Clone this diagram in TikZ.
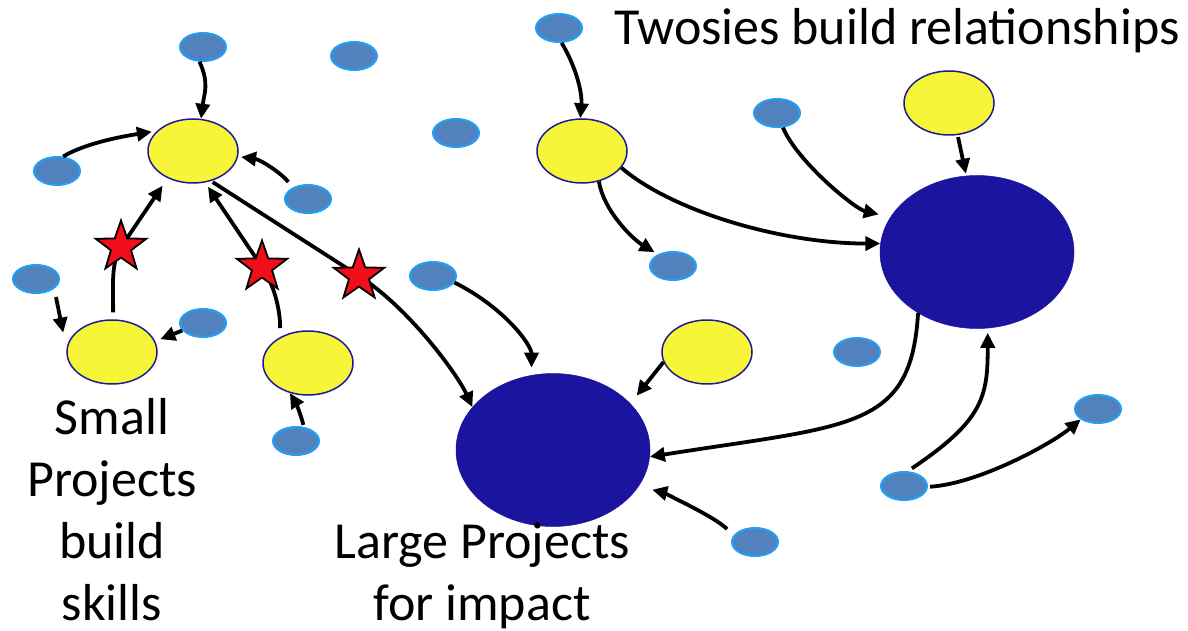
\documentclass[tikz,border=0pt]{standalone}
\usepackage{fontspec}
\setmainfont{Carlito}
\usetikzlibrary{shapes.geometric,arrows.meta}
\definecolor{smfill}{HTML}{5282BE}
\definecolor{smline}{HTML}{23A0F5}
\definecolor{yfill}{HTML}{F7F537}
\definecolor{yline}{HTML}{1E1996}
\definecolor{bigfill}{HTML}{1B149E}
\definecolor{starred}{HTML}{F20D1A}
\begin{document}
\begin{tikzpicture}[x=1pt,y=-1pt,
  sm/.style={ellipse, minimum width=46pt, minimum height=28pt, inner sep=0pt, fill=smfill, draw=smline, line width=2pt},
  yel/.style={ellipse, minimum width=90pt, minimum height=64pt, inner sep=0pt, fill=yfill, draw=yline, line width=1.5pt},
  big/.style={ellipse, minimum width=194pt, minimum height=153pt, inner sep=0pt, fill=bigfill, draw=bigfill, line width=0.5pt},
  conn/.style={line width=3.8pt, black, -{Triangle[length=15pt,width=14pt]}},
  starnode/.style={star, star points=5, star point ratio=2.5, minimum size=53pt, inner sep=0pt, fill=starred, draw=black, line width=1.8pt},
  lbl/.style={font=\fontsize{52}{62}\selectfont, inner sep=0pt, text=black}]
\useasboundingbox (0,0) rectangle (1188,631);
\fill[white] (0,0) rectangle (1188,631);

% small blue ellipses
\node[sm] (b1) at (203,47) {};
\node[sm] (b2) at (354,56) {};
\node[sm] (b3) at (57,171) {};
\node[sm] (b4) at (308,199) {};
\node[sm] (b5) at (36,279) {};
\node[sm] (b6) at (203,323) {};
\node[sm] (b7) at (296,441) {};
\node[sm] (b8) at (456,133) {};
\node[sm] (b9) at (559,28) {};
\node[sm] (b10) at (673,266) {};
\node[sm] (b11) at (777,113) {};
\node[sm] (b12) at (433,276) {};
\node[sm] (b13) at (857,352) {};
\node[sm] (b14) at (1098,409) {};
\node[sm] (b15) at (904,486) {};
\node[sm] (b16) at (755,542) {};

% yellow ellipses
\node[yel] (yA) at (193,151) {};
\node[yel] (yB) at (112,352) {};
\node[yel] (yC) at (308,363) {};
\node[yel] (yD) at (582,151) {};
\node[yel] (yE) at (949,103) {};
\node[yel] (yF) at (707,352) {};

% big ellipses
\node[big] (gG) at (553,450) {};
\node[big] (gH) at (977,252) {};

% star positions
\coordinate (s1) at (121,247);
\coordinate (s2) at (262,267);
\coordinate (s3) at (359,276);

% connectors
\draw[conn] (b1.257) .. controls +(10,22) and +(3,-25) .. (yA.76);
\draw[conn, shorten >=5pt] (b3.67) .. controls +(25,-15) and +(-25,4) .. (yA.151);
\draw[conn, shorten <=7pt, shorten >=3pt] (b4.143) .. controls +(-12,-15) and +(22,3) .. (yA.353);
\draw[conn, shorten <=7pt, shorten >=9pt] (yB.88) .. controls +(0,-35) and +(-10,15.5) .. (s1) -- (yA.227);
\draw[conn, shorten <=9pt, shorten >=5pt] (yC.137) .. controls +(0,-30) and +(11,16) .. (s2) -- (yA.291);
\draw[conn, shorten <=2pt] (yA.301) -- (s3) .. controls +(50,32) and +(-15,-33) .. (gG.152);
\draw[conn, shorten <=8.5pt, shorten >=16.5pt] (b5.332) -- (yB.176.5);
\draw[conn, shorten >=5.5pt] (b6.200) -- (yB.14);
\draw[conn, shorten <=2pt] (b7.61) .. controls +(-3,-12) and +(6,10) .. (yC.239);
\draw[conn] (b9.280) .. controls +(15,25) and +(2,-25) .. (yD.93);
\draw[conn, shorten >=4pt] (yD.299) .. controls +(5,30) and +(-25,-15) .. (b10.142);
\draw[conn] (yD.337) .. controls +(50,43) and +(-100,0) .. (gH.175);
\draw[conn, shorten >=12pt] (b11.292) .. controls +(15,35) and +(-35,-8) .. (gH.158);
\draw[conn, shorten <=2pt, shorten >=2pt] (yE.285) -- (gH.98);
\draw[conn] (gH.226) .. controls +(-7,117) and +(202,-32) .. (gG.356);
\draw[conn, shorten <=5pt, shorten >=4.5pt] (b15.76) .. controls +(76,-51) and +(0,68) .. (gH.278);
\draw[conn, shorten <=2pt] (b15.358) .. controls +(50,-3) and +(-30,25) .. (b14.211);
\draw[conn, shorten >=7.5pt] (b12.343) .. controls +(50,25) and +(0,-30) .. (gG.106);
\draw[conn, shorten >=10pt] (yF.193) -- (gG.31.5);
\draw[conn, shorten <=9pt, shorten >=14pt] (b16.163) .. controls +(-20,-20) and +(20,5) .. (gG.337);

% stars
\node[starnode] (star1) at (s1) {};
\node[starnode] (star2) at (s2) {};
\node[starnode] (star3) at (s3) {};

% labels
\node[lbl, anchor=base] (t1) at (897,45) {Twosies build relationships};
\node[lbl, align=center, anchor=base] (t2) at (112,620) {Small\\Projects\\build\\skills};
\node[lbl, align=center, anchor=base] (t3) at (482,620) {Large Projects\\for impact};
\end{tikzpicture}
\end{document}
